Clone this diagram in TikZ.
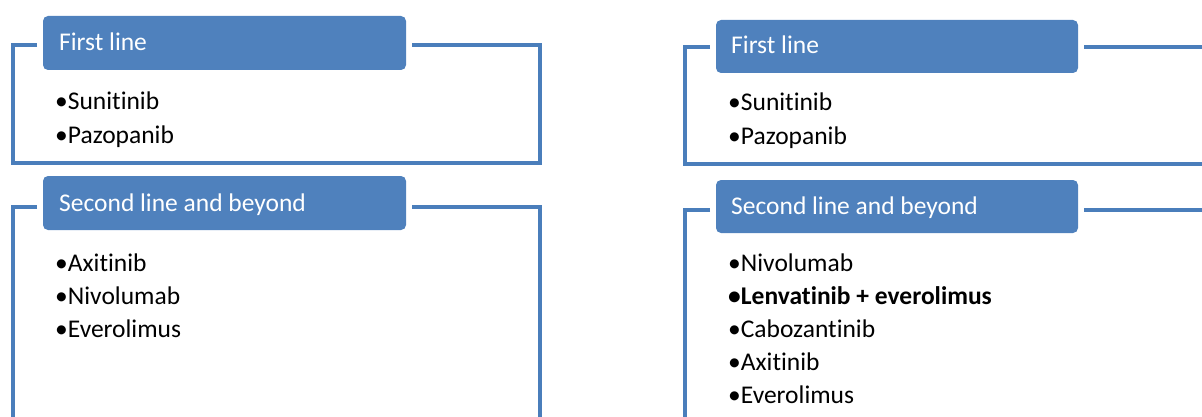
\documentclass[tikz,border=0pt]{standalone}
\usepackage{fontspec}
\setmainfont[Ligatures={NoCommon}]{Carlito}
\definecolor{hdrblue}{HTML}{4F81BD}
\definecolor{lineblue}{HTML}{4A7EBB}
\begin{document}
\begin{tikzpicture}[x=1pt,y=-1pt,
  frame/.style={draw=lineblue,line width=3.4pt},
  header/.style={fill=hdrblue,draw=none,rounded corners=5pt},
  hdrtext/.style={anchor=base west,inner sep=0pt,text=white,font=\fontsize{25.5}{30}\selectfont},
  item/.style={anchor=base west,inner sep=0pt,text=black,font=\fontsize{25.5}{30}\selectfont}]
\useasboundingbox (0,0) rectangle (1202,417);
\clip (0,0) rectangle (1202,417);
% ---------- left panel ----------
\draw[frame] (37,45) -- (13,45) -- (13,163) -- (540,163) -- (540,45) -- (412,45);
\path[header] (43,16) rectangle (406,70);
\node[hdrtext] (l1h) at (59,51) {First line};
\node[item] (l1a) at (55,110) {•Sunitinib};
\node[item] (l1b) at (55,143) {•Pazopanib};

\draw[frame] (37,207) -- (13,207) -- (13,430);
\draw[frame] (412,207) -- (540,207) -- (540,430);
\path[header] (43,176) rectangle (406,230);
\node[hdrtext] (l2h) at (59,211) {Second line and beyond};
\node[item] (l2a) at (55,271) {•Axitinib};
\node[item] (l2b) at (55,304) {•Nivolumab};
\node[item] (l2c) at (55,337) {•Everolimus};
% ---------- right panel ----------
\draw[frame] (710,47) -- (685,47) -- (685,164) -- (1215,164);
\draw[frame] (1084,47) -- (1215,47);
\path[header] (716,20) rectangle (1078,73);
\node[hdrtext] (r1h) at (731,54) {First line};
\node[item] (r1a) at (728,111) {•Sunitinib};
\node[item] (r1b) at (728,145) {•Pazopanib};

\draw[frame] (710,210) -- (685,210) -- (685,430);
\draw[frame] (1084,210) -- (1215,210);
\path[header] (716,180) rectangle (1078,233);
\node[hdrtext] (r2h) at (731,214) {Second line and beyond};
\node[item] (r2a) at (728,271) {•Nivolumab};
\node[item] (r2b) at (728,304) {\bfseries •Lenvatinib + everolimus};
\node[item] (r2c) at (728,337) {•Cabozantinib};
\node[item] (r2d) at (728,370) {•Axitinib};
\node[item] (r2e) at (728,403) {•Everolimus};
\end{tikzpicture}
\end{document}
